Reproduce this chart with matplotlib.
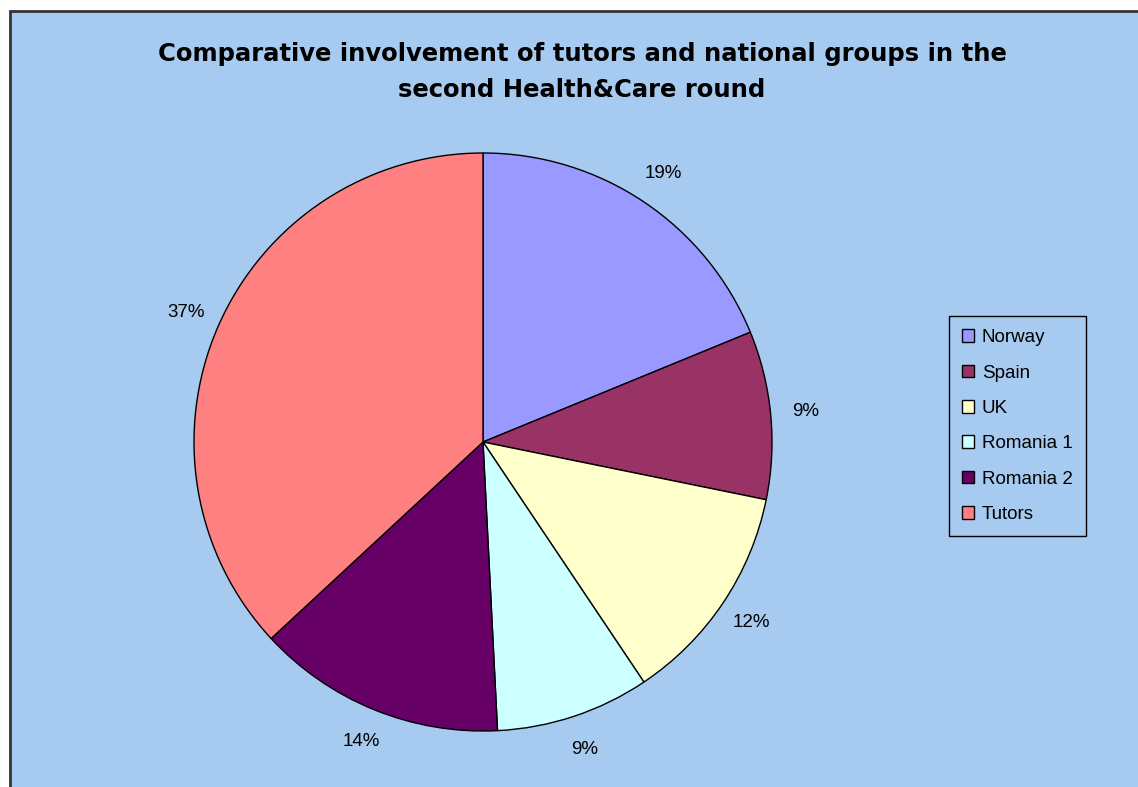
import matplotlib
matplotlib.use("Agg")
import matplotlib.pyplot as plt
from matplotlib.patches import Rectangle

categories = ["Norway", "Spain", "UK", "Romania 1", "Romania 2", "Tutors"]
values = [18.8, 9.4, 12.4, 8.6, 13.9, 36.9]
colors = ["#9999FF", "#993366", "#FFFFCC", "#CCFFFF", "#660066", "#FF8080"]
title = "Comparative involvement of tutors and national groups in the\nsecond Health&Care round"

W, H = 1138, 787
fig = plt.figure(figsize=(W / 100, H / 100), dpi=100)
fig.patch.set_facecolor("white")
bg = "#A6CAF0"
fig.patches.append(Rectangle((10 / W, -0.01), 1.02, 1 - 11 / H + 0.01, transform=fig.transFigure,
                             facecolor=bg, edgecolor="#333333", linewidth=2, zorder=-5))

ax = fig.add_axes([0, 0, 1, 1])
ax.set_zorder(2)
ax.patch.set_alpha(0)

wedges, texts, autotexts = ax.pie(
    values, colors=colors, startangle=90, counterclock=False,
    center=(483, H - 442), radius=289,
    wedgeprops=dict(edgecolor="black", linewidth=1),
    autopct="%.0f%%", pctdistance=1.12,
    textprops=dict(fontsize=13.5, family="Liberation Sans", color="black"),
    frame=True,
)
ax.set_xlim(0, W)
ax.set_ylim(0, H)
ax.set_aspect("equal")
ax.axis("off")

fig.text(582 / W, 1 - 72 / H, title, ha="center", va="center", fontsize=17.5,
         fontweight="bold", family="DejaVu Sans", linespacing=1.65, zorder=3)

leg = fig.legend(wedges, categories, loc="upper left",
                 bbox_to_anchor=(949 / W, 1 - 316 / H),
                 prop=dict(family="Liberation Sans", size=13.5),
                 frameon=True, fancybox=False, edgecolor="black", facecolor=bg,
                 framealpha=1, labelspacing=0.98, handlelength=0.65, handleheight=0.65,
                 handletextpad=0.4, borderpad=0.7, borderaxespad=0)
leg.set_zorder(4)
leg.get_frame().set_linewidth(1)
for h in leg.legend_handles:
    h.set_edgecolor("black")
    h.set_linewidth(1)

fig.savefig("out.png", dpi=100, facecolor=fig.get_facecolor())
